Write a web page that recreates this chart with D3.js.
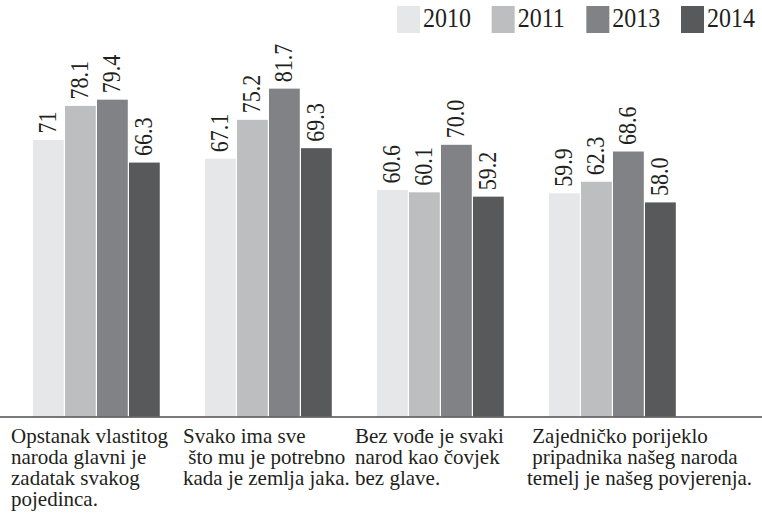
<!DOCTYPE html>
<html>
<head>
<meta charset="utf-8">
<script src="https://cdn.jsdelivr.net/npm/d3@7"></script>
<style>
  body { margin: 0; background: #fff; }
  text { font-family: "Liberation Serif", "Times New Roman", serif; fill: #231f20; }
</style>
</head>
<body>
<div id="chart"></div>
<script>
var width = 762;
var height = 526;

// data
var categories = ["c1", "c2", "c3", "c4"];
var categoryLabels = [
  ["Opstanak vlastitog", "naroda glavni je", "zadatak svakog", "pojedinca."],
  ["Svako ima sve", " što mu je potrebno", "kada je zemlja jaka."],
  ["Bez vođe je svaki", "narod kao čovjek", "bez glave."],
  [" Zajedničko porijeklo", " pripadnika našeg naroda", "temelj je našeg povjerenja."]
];
var years = ["2010", "2011", "2013", "2014"];
var values2010 = [71, 67.1, 60.6, 59.9];
var values2011 = [78.1, 75.2, 60.1, 62.3];
var values2013 = [79.4, 81.7, 70.0, 68.6];
var values2014 = [66.3, 69.3, 59.2, 58.0];
var valueLabels2010 = ["71", "67.1", "60.6", "59.9"];
var valueLabels2011 = ["78.1", "75.2", "60.1", "62.3"];
var valueLabels2013 = ["79.4", "81.7", "70.0", "68.6"];
var valueLabels2014 = ["66.3", "69.3", "59.2", "58.0"];

var series = [values2010, values2011, values2013, values2014];
var seriesLabels = [valueLabels2010, valueLabels2011, valueLabels2013, valueLabels2014];
var colors = ["#e6e7e8", "#bcbec0", "#808285", "#58595b"];

var rows = [];
categories.forEach(function(c, i) {
  years.forEach(function(y, j) {
    rows.push({cat: c, year: y, value: series[j][i], label: seriesLabels[j][i]});
  });
});

var svg = d3.select("#chart").append("svg")
  .attr("width", width)
  .attr("height", height);

var baseY = 416.5;

var x0 = d3.scaleBand().domain(categories).range([33, 677]).paddingInner(0.256).paddingOuter(0);
var x1 = d3.scaleBand().domain(years).range([0, x0.bandwidth()]).padding(0);
// the original bars are not drawn from zero, this domain follows them
var y = d3.scaleLinear().domain([13.4, 100]).range([baseY, 0.8]);
var color = d3.scaleOrdinal().domain(years).range(colors);

// bars
svg.append("g").selectAll("rect")
  .data(rows)
  .enter()
  .append("rect")
  .attr("x", function(d) { return x0(d.cat) + x1(d.year); })
  .attr("y", function(d) { return y(d.value); })
  .attr("width", x1.bandwidth() - 1.2)
  .attr("height", function(d) { return baseY - y(d.value); })
  .attr("fill", function(d) { return color(d.year); });

// value labels, rotated (glyphs a bit taller than Times, so stretched)
svg.append("g").selectAll("text")
  .data(rows)
  .enter()
  .append("text")
  .attr("transform", function(d) {
    var cx = x0(d.cat) + x1(d.year) + x1.bandwidth() / 2 - 1.5;
    return "translate(" + cx + "," + (y(d.value) - 6.5) + ") rotate(-90) scale(1,1.15)";
  })
  .attr("dy", "0.33em")
  .style("font-size", "22px")
  .text(function(d) { return d.label; });

// baseline
svg.append("line")
  .attr("x1", 0)
  .attr("x2", width)
  .attr("y1", baseY + 0.5)
  .attr("y2", baseY + 0.5)
  .attr("stroke", "#4d4d4f")
  .attr("stroke-width", 1.6);

// category labels
var catG = svg.append("g").selectAll("text")
  .data(categories)
  .enter()
  .append("text")
  .attr("x", function(d) { return x0(d) - 22; })
  .attr("y", 443)
  .style("font-size", "21px")
  .style("white-space", "pre");

catG.each(function(d, i) {
  var t = d3.select(this);
  categoryLabels[i].forEach(function(line, k) {
    t.append("tspan")
      .attr("x", x0(d) - 22)
      .attr("y", 443 + k * 21)
      .text(line);
  });
});

// legend
var legendX = d3.scalePoint().domain(years).range([397, 681]);
var legend = svg.append("g").selectAll("g")
  .data(years)
  .enter()
  .append("g")
  .attr("transform", function(d) { return "translate(" + legendX(d) + ",0)"; });

legend.append("rect")
  .attr("y", 6)
  .attr("width", 23)
  .attr("height", 27)
  .attr("fill", function(d) { return color(d); });

legend.append("text")
  .attr("transform", "translate(26,27) scale(1,1.12)")
  .style("font-size", "24px")
  .text(function(d) { return d; });
</script>
</body>
</html>
